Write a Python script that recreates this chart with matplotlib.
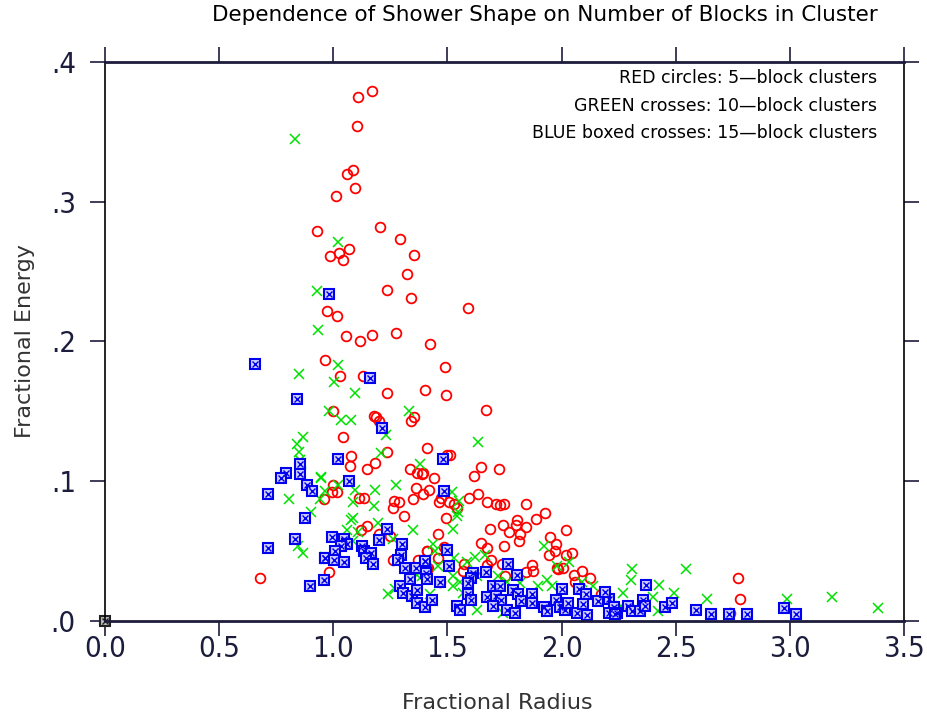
import matplotlib.pyplot as plt
import numpy as np

# 5-block clusters (red circles)
red_x = [1.168, 1.108, 1.102, 1.088, 1.060, 1.094, 1.012, 0.930, 1.205, 1.294,
         1.067, 0.987, 1.025, 1.041, 1.354, 1.323, 1.237, 1.339, 1.589, 0.971,
         1.016, 1.054, 1.117, 1.169, 1.275, 1.422, 0.962, 1.491, 1.028, 1.130,
         1.234, 1.400, 1.495, 1.000, 1.178, 1.187, 1.199, 1.339, 1.355, 1.041,
         1.078, 1.075, 1.181, 1.148, 1.234, 1.336, 1.365, 1.387, 1.412, 1.361,
         1.392, 1.351, 1.000, 0.993, 1.018, 0.959, 1.114, 1.134, 1.266, 1.289,
         1.260, 1.310, 1.146, 1.121, 1.202, 1.248, 1.263, 1.372, 1.409, 0.980,
         0.679, 1.409, 1.497, 1.647, 1.727, 1.615, 1.391, 1.442, 1.419, 1.635,
         1.470, 1.463, 1.505, 1.527, 1.593, 1.673, 1.713, 1.730, 1.749, 1.844,
         1.540, 1.494, 1.805, 1.886, 1.927, 1.743, 1.799, 1.843, 1.685, 1.770,
         2.019, 1.818, 1.813, 1.950, 1.459, 1.647, 1.673, 1.748, 1.974, 1.410,
         1.486, 1.943, 1.971, 2.018, 2.044, 1.459, 1.691, 1.738, 1.869, 1.981,
         2.005, 1.986, 1.413, 1.574, 1.675, 1.844, 1.876, 2.089, 2.056, 2.124,
         2.059, 1.751, 1.567, 1.467, 2.172, 2.102, 2.774, 2.781, 2.738, 1.669,
         1.511]
red_y = [0.379, 0.375, 0.354, 0.323, 0.320, 0.310, 0.304, 0.279, 0.282, 0.273,
         0.266, 0.261, 0.263, 0.258, 0.262, 0.248, 0.237, 0.231, 0.224, 0.222,
         0.218, 0.204, 0.200, 0.205, 0.206, 0.198, 0.187, 0.182, 0.175, 0.175,
         0.163, 0.165, 0.162, 0.150, 0.147, 0.146, 0.143, 0.143, 0.146, 0.132,
         0.118, 0.111, 0.113, 0.109, 0.121, 0.109, 0.106, 0.105, 0.124, 0.095,
         0.091, 0.087, 0.097, 0.092, 0.092, 0.087, 0.088, 0.088, 0.086, 0.085,
         0.081, 0.075, 0.068, 0.065, 0.062, 0.061, 0.044, 0.044, 0.050, 0.035,
         0.031, 0.037, 0.119, 0.110, 0.109, 0.104, 0.106, 0.102, 0.094, 0.091,
         0.088, 0.085, 0.085, 0.084, 0.088, 0.085, 0.084, 0.083, 0.084, 0.084,
         0.081, 0.074, 0.072, 0.073, 0.077, 0.069, 0.069, 0.067, 0.066, 0.064,
         0.065, 0.062, 0.057, 0.060, 0.062, 0.056, 0.052, 0.054, 0.055, 0.050,
         0.053, 0.047, 0.050, 0.047, 0.049, 0.045, 0.044, 0.041, 0.040, 0.038,
         0.038, 0.037, 0.038, 0.041, 0.040, 0.035, 0.036, 0.036, 0.033, 0.031,
         0.028, 0.032, 0.036, 0.028, 0.019, 0.019, 0.031, 0.016, 0.006, 0.151,
         0.119]

# 10-block clusters (green crosses)
green_x = [0.832, 1.019, 0.930, 0.934, 0.848, 1.019, 1.004, 1.094, 0.981, 1.032,
           1.076, 1.332, 1.231, 0.866, 0.840, 0.851, 0.859, 1.209, 1.380, 0.945,
           1.021, 0.962, 1.097, 1.183, 1.273, 0.807, 0.942, 1.088, 1.178, 0.902,
           1.085, 1.078, 1.197, 1.351, 1.059, 1.110, 1.085, 1.263, 0.847, 0.869,
           0.964, 1.168, 1.241, 1.270, 1.365, 1.389, 1.635, 1.519, 1.552, 1.545,
           1.540, 1.523, 1.438, 1.446, 1.530, 1.621, 1.664, 1.584, 1.924, 1.979,
           2.034, 1.460, 1.526, 1.555, 1.628, 1.723, 1.759, 1.818, 1.898, 1.935,
           1.957, 2.088, 2.139, 1.424, 1.628, 1.745, 1.862, 1.526, 1.570, 2.310,
           2.304, 2.545, 2.427, 2.268, 2.402, 2.492, 2.424, 2.635, 2.986, 2.259,
           3.184, 3.386, 0.854, 0.946]
green_y = [0.345, 0.271, 0.236, 0.208, 0.177, 0.183, 0.171, 0.163, 0.150, 0.144,
           0.144, 0.150, 0.133, 0.132, 0.127, 0.121, 0.113, 0.120, 0.112, 0.102,
           0.097, 0.093, 0.094, 0.094, 0.097, 0.087, 0.087, 0.085, 0.082, 0.078,
           0.074, 0.072, 0.070, 0.065, 0.065, 0.064, 0.057, 0.059, 0.054, 0.049,
           0.046, 0.042, 0.019, 0.023, 0.033, 0.032, 0.128, 0.092, 0.086, 0.078,
           0.075, 0.066, 0.055, 0.050, 0.045, 0.046, 0.047, 0.042, 0.054, 0.039,
           0.042, 0.039, 0.032, 0.028, 0.032, 0.032, 0.028, 0.027, 0.025, 0.029,
           0.025, 0.028, 0.025, 0.019, 0.008, 0.006, 0.015, 0.025, 0.020, 0.037,
           0.029, 0.037, 0.026, 0.020, 0.017, 0.020, 0.007, 0.016, 0.016, 0.011,
           0.017, 0.009, 0.115, 0.103]

# 15-block clusters (blue boxed crosses)
blue_x = [0.657, 0.841, 0.854, 0.856, 0.794, 0.772, 0.886, 0.908, 0.713, 0.875,
          0.834, 0.715, 0.964, 0.958, 0.899, 0.981, 1.162, 1.215, 1.019, 1.069,
          0.993, 1.048, 1.059, 1.034, 1.007, 0.962, 1.003, 1.048, 1.124, 1.134,
          1.164, 1.143, 1.172, 1.234, 1.200, 1.301, 1.295, 1.283, 1.314, 1.361,
          1.402, 1.406, 1.336, 1.292, 1.307, 1.343, 1.365, 1.368, 1.402, 1.482,
          1.485, 1.497, 1.401, 1.507, 1.409, 1.467, 1.764, 1.803, 1.669, 1.611,
          1.603, 1.589, 1.701, 1.730, 1.788, 2.000, 2.077, 2.105, 1.434, 1.540,
          1.555, 1.592, 1.602, 1.672, 1.713, 1.735, 1.698, 1.762, 1.796, 1.810,
          1.821, 1.869, 1.872, 1.923, 1.935, 1.975, 1.993, 2.015, 2.029, 2.066,
          2.095, 2.110, 2.158, 2.209, 2.230, 2.241, 2.190, 2.209, 2.234, 2.292,
          2.307, 2.343, 2.358, 2.365, 2.369, 2.453, 2.482, 2.589, 2.654, 2.735,
          2.813, 2.976, 3.027]
blue_y = [0.184, 0.159, 0.112, 0.105, 0.106, 0.102, 0.097, 0.093, 0.091, 0.074,
          0.059, 0.052, 0.045, 0.029, 0.025, 0.234, 0.174, 0.138, 0.116, 0.100,
          0.060, 0.059, 0.055, 0.054, 0.050, 0.045, 0.044, 0.042, 0.054, 0.050,
          0.049, 0.045, 0.041, 0.066, 0.058, 0.055, 0.047, 0.044, 0.038, 0.038,
          0.043, 0.034, 0.030, 0.025, 0.020, 0.018, 0.022, 0.013, 0.010, 0.116,
          0.093, 0.051, 0.043, 0.039, 0.030, 0.028, 0.041, 0.033, 0.035, 0.034,
          0.031, 0.027, 0.025, 0.025, 0.022, 0.023, 0.023, 0.019, 0.015, 0.011,
          0.008, 0.019, 0.015, 0.017, 0.018, 0.015, 0.011, 0.008, 0.006, 0.019,
          0.014, 0.019, 0.013, 0.010, 0.007, 0.015, 0.010, 0.008, 0.013, 0.006,
          0.012, 0.004, 0.014, 0.016, 0.010, 0.006, 0.021, 0.006, 0.005, 0.011,
          0.007, 0.007, 0.015, 0.011, 0.026, 0.010, 0.013, 0.008, 0.005, 0.005,
          0.005, 0.009, 0.005]

x_ticks = [0.0, 0.5, 1.0, 1.5, 2.0, 2.5, 3.0, 3.5]
x_labels = ['0.0', '0.5', '1.0', '1.5', '2.0', '2.5', '3.0', '3.5']
y_ticks = [0.0, 0.1, 0.2, 0.3, 0.4]
y_labels = ['.0', '.1', '.2', '.3', '.4']

legend_lines = ['RED circles: 5\u2014block clusters',
                'GREEN crosses: 10\u2014block clusters',
                'BLUE boxed crosses: 15\u2014block clusters']

axis_col = '#1c1c3c'
narrow = dict(family='DejaVu Sans', stretch='condensed')

fig = plt.figure(figsize=(9.27, 7.19), dpi=100)
ax = fig.add_axes([0.1133, 0.1363, 0.8619, 0.7775])

ax.plot(red_x, red_y, 'o', ms=7, mfc='none', mec='red', mew=1.3, ls='none')
ax.plot(green_x, green_y, 'x', ms=7.5, color='#00e000', mew=1.1, ls='none')
ax.plot(blue_x, blue_y, 's', ms=7, mfc='#d0d0ff', mec='#0000ee', mew=1.5, ls='none')
ax.plot(blue_x, blue_y, 'x', ms=4, color='#0000ee', mew=1.0, ls='none')
ax.plot([0], [0], 's', ms=7, mfc='#bbbbbb', mec='#222222', mew=1.5, clip_on=False)
ax.plot([0], [0], 'x', ms=4, color='#222222', mew=1.0, clip_on=False)

ax.set_xlim(0, 3.5)
ax.set_ylim(0, 0.4)
ax.set_xticks(x_ticks)
ax.set_xticklabels(x_labels, fontsize=21, fontweight='light', **narrow)
ax.set_yticks(y_ticks)
ax.set_yticklabels(y_labels, fontsize=21, fontweight='light', **narrow)
ax.tick_params(direction='out', length=11, width=1.2, color=axis_col,
               top=True, right=True, labelcolor=axis_col)
ax.tick_params(axis='x', pad=-1)
ax.tick_params(axis='y', pad=10)

for side in ['top', 'bottom']:
    ax.spines[side].set_linewidth(2)
    ax.spines[side].set_color(axis_col)
for side in ['left', 'right']:
    ax.spines[side].set_linewidth(1.2)
    ax.spines[side].set_color('black')

for i, line in enumerate(legend_lines):
    ax.text(0.966, 0.971 - i * 0.049, line, transform=ax.transAxes,
            ha='right', va='center', fontsize=12.5, family='DejaVu Sans')

fig.text(0.588, 0.979, 'Dependence of Shower Shape on Number of Blocks in Cluster',
         ha='center', va='center', fontsize=15.5, family='DejaVu Sans')
fig.text(0.536, 0.022, 'Fractional Radius', ha='center', va='center',
         fontsize=16, color='#333333', family='DejaVu Sans')
fig.text(0.027, 0.526, 'Fractional Energy', ha='center', va='center',
         rotation=90, fontsize=16, color='#333333', family='DejaVu Sans')

fig.savefig('out.png', dpi=100)
